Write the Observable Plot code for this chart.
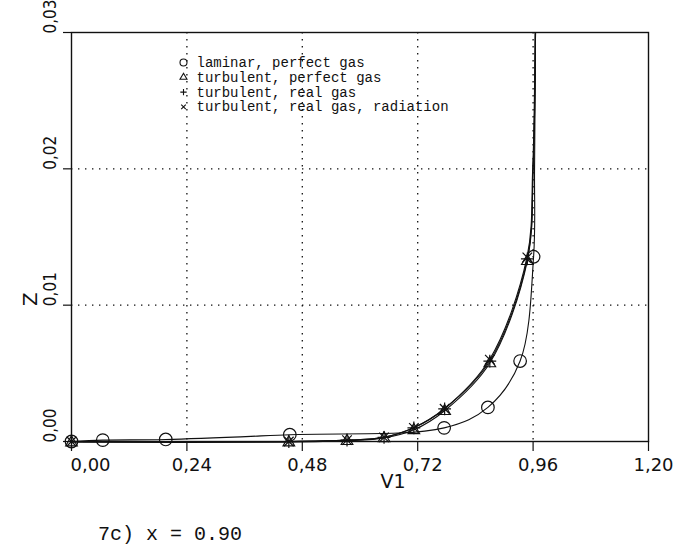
<!DOCTYPE html>
<html>
<head>
<meta charset="utf-8">
<script src="https://cdn.jsdelivr.net/npm/d3@7"></script>
<script src="https://cdn.jsdelivr.net/npm/@observablehq/plot@0.6"></script>
<style>
  html, body { margin: 0; padding: 0; background: #fff; }
  #wrap { position: relative; width: 693px; height: 549px; overflow: hidden; }
  #caption {
    position: absolute; left: 98px; top: 525px;
    font: 20px/20px "Liberation Mono", "DejaVu Sans Mono", monospace;
    color: #111; white-space: pre;
  }
</style>
</head>
<body>
<div id="wrap">
  <div id="chart"></div>
  <div id="caption">7c) x = 0.90</div>
</div>
<script>
// Marker positions of each case (V1 versus Z)
const laminarV1 = [0, 0.065, 0.196, 0.454, 0.775, 0.866, 0.933, 0.961];
const laminarZ  = [0, 0.0001, 0.00015, 0.0005, 0.001, 0.0025, 0.0059, 0.01355];

const turbV1        = [0, 0.452, 0.573, 0.650, 0.712, 0.776, 0.870, 0.948];
const turbPerfectZ  = [0, 0, 0.0001, 0.0003, 0.0009, 0.0023, 0.0058, 0.0133];
const turbRealZ     = [0, 0, 0.0001, 0.0003, 0.0010, 0.0024, 0.0059, 0.0134];
const turbRadZ      = [0, 0, 0.0001, 0.0003, 0.0010, 0.0024, 0.0060, 0.0135];

// Continuation of the profiles up to the top of the plot
const laminarTopV1 = [0.963, 0.965];
const laminarTopZ  = [0.02, 0.03];
const turbTopV1    = [0.960, 0.965];
const turbTopZ     = [0.02, 0.03];

// Axis ticks
const xTicks = [0, 0.24, 0.48, 0.72, 0.96, 1.20];
const yTicks = [0, 0.01, 0.02, 0.03];
const xGrid  = [0.24, 0.48, 0.72, 0.96];
const yGrid  = [0.01, 0.02];

// Legend entries
const legendLabels  = ["laminar, perfect gas", "turbulent, perfect gas", "turbulent, real gas", "turbulent, real gas, radiation"];
const legendSymbols = ["circle", "triangle", "plus", "times"];

const comma = d => d3.format(".2f")(d).replace(".", ",");
const pts = (xs, zs) => xs.map((v, i) => ({v1: v, z: zs[i]}));

const laminar  = pts(laminarV1, laminarZ);
const perfect  = pts(turbV1, turbPerfectZ);
const real     = pts(turbV1, turbRealZ);
const rad      = pts(turbV1, turbRadZ);
const laminarLine = laminar.concat(pts(laminarTopV1, laminarTopZ));
const perfectLine = perfect.concat(pts(turbTopV1, turbTopZ));
const realLine    = real.concat(pts(turbTopV1, turbTopZ));
const radLine     = rad.concat(pts(turbTopV1, turbTopZ));

const sansX = "'DejaVu Sans', sans-serif";
const sansY = "'Liberation Sans Narrow', 'DejaVu Sans Condensed', sans-serif";
const mono  = "'Liberation Mono', 'DejaVu Sans Mono', monospace";

const lineOpts = {x: "v1", y: "z", curve: "catmull-rom", stroke: "#111", strokeWidth: 1.1};
const dotOpts = (symbol, r) => ({x: "v1", y: "z", symbol: () => symbol, r, stroke: "#111", strokeWidth: 1.2, fill: "none"});

const legendMarks = legendLabels.flatMap((label, i) => [
  Plot.dot([label], {frameAnchor: "top-left", dx: 112, dy: 30 + i * 14.8, symbol: () => legendSymbols[i],
    r: [3.5, 2.6, 2.2, 2.2][i], stroke: "#111", strokeWidth: 1.1, fill: "none"}),
  Plot.text([label], {frameAnchor: "top-left", dx: 125, dy: 30 + i * 14.8, text: d => d, textAnchor: "start",
    lineAnchor: "middle", fontFamily: mono, fontSize: 14, fill: "#111"})
]);

const chart = Plot.plot({
  width: 693,
  height: 500,
  marginLeft: 71,
  marginRight: 45,
  marginTop: 32,
  marginBottom: 59,
  style: {background: "#fff", color: "#111"},
  x: {domain: [0, 1.2], axis: null},
  y: {domain: [0, 0.03], axis: null},
  symbol: {type: "identity"},
  marks: [
    Plot.gridX(xGrid, {stroke: "#111", strokeOpacity: 1, strokeWidth: 1.3, strokeDasharray: "1.4,5.6"}),
    Plot.gridY(yGrid, {stroke: "#111", strokeOpacity: 1, strokeWidth: 1.3, strokeDasharray: "1.4,5.6"}),
    // ticks and tick labels
    Plot.axisX({ticks: xTicks, label: null, tickSize: 10, tickFormat: () => "", strokeWidth: 1.2}),
    Plot.axisX({ticks: xTicks.slice(0, 1), label: null, tickSize: 0, tickPadding: 17, dx: 19, tickFormat: comma, fontFamily: sansX, fontSize: 18}),
    Plot.axisX({ticks: xTicks.slice(1), label: null, tickSize: 0, tickPadding: 17, dx: 5, tickFormat: comma, fontFamily: sansX, fontSize: 18}),
    Plot.axisY({ticks: yTicks, label: null, tickSize: 8, tickFormat: () => "", strokeWidth: 1.2}),
    Plot.text(yTicks, {y: d => d, frameAnchor: "left", text: comma, rotate: -90, textAnchor: "start",
      lineAnchor: "bottom", dx: -16, dy: 1, fontFamily: sansY, fontSize: 17, fill: "#111"}),
    Plot.text(["Z"], {frameAnchor: "left", text: d => d, rotate: -90, dx: -41, dy: 69, fontFamily: sansX, fontSize: 20, fill: "#111"}),
    Plot.text(["V1"], {frameAnchor: "bottom", text: d => d, dx: 33, dy: 46, fontFamily: sansX, fontSize: 19, fill: "#111"}),
    // profiles
    Plot.line(laminarLine, lineOpts),
    Plot.line(perfectLine, {...lineOpts, dy: 0.6}),
    Plot.line(realLine, lineOpts),
    Plot.line(radLine, {...lineOpts, dx: -0.4}),
    Plot.dot(laminar, dotOpts("circle", 6.3)),
    Plot.dot(perfect, {...dotOpts("triangle", 4.3), dy: 1}),
    Plot.dot(real, dotOpts("plus", 4.2)),
    Plot.dot(rad, dotOpts("times", 4.4)),
    ...legendMarks,
    Plot.frame({stroke: "#111", strokeWidth: 1.4})
  ]
});

document.getElementById("chart").appendChild(chart);
</script>
</body>
</html>
